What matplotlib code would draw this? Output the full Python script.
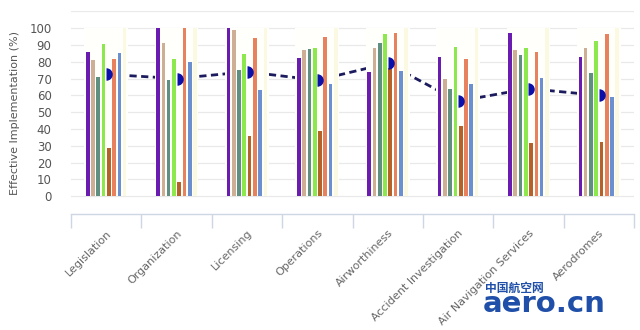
import matplotlib
matplotlib.use("Agg")
import matplotlib.pyplot as plt
import numpy as np

categories = ["Legislation", "Organization", "Licensing", "Operations", "Airworthiness",
              "Accident Investigation", "Air Navigation Services", "Aerodromes"]

s_purple = [86, 100, 100, 82, 74, 83, 97, 83]
s_tan = [81, 91, 99, 87, 88, 70, 87, 88]
s_teal = [71, 69, 75, 87.5, 91, 64, 84, 73]
s_green = [90.5, 81.5, 84.5, 88, 96.5, 89, 88, 92.5]
s_brown = [28.5, 8.5, 36, 39, 76, 42, 31.5, 32.5]
s_orange = [81.5, 100, 94, 94.5, 97, 81.5, 85.5, 96.5]
s_blue = [85, 80, 63, 66.5, 74.5, 67, 70.5, 59]
s_pale = [100, 100, 100, 100, 100, 100, 100, 100]
avg_line = [72.5, 70, 74, 69, 79, 56.5, 64, 60]

series = [s_purple, s_tan, s_teal, s_green, s_brown, s_orange, s_blue, s_pale]
colors = ["#6a1bb0", "#cfae96", "#5e8f80", "#8de84e", "#b5622a", "#e8825e", "#6c8fd0", "#fcf9e2"]

fig = plt.figure(figsize=(6.4, 3.3), dpi=100)
ax = fig.add_axes([71/640, 116/330, 563/640, 202.8/330])

x = np.arange(len(categories))
ax.set_xlim(-0.5, len(categories) - 0.5)
ax.set_ylim(-10.5, 110)

# grid
for g in range(0, 111, 10):
    ax.axhline(g, color="#e9e9e9", lw=0.9, zorder=0)

# dashed average line (behind group bands)
ax.plot(x, avg_line, color="#1b1b5e", lw=2.0, ls=(0, (2.6, 1.6)), zorder=1)

# faint group band
ax.bar(x, [100] * len(categories), width=0.62, bottom=0, color="#fffffb", zorder=2, linewidth=0)

n = len(series)
spacing = 0.075
width = 0.052
for i, (vals, c) in enumerate(zip(series, colors)):
    off = (i - (n - 1) / 2) * spacing
    ax.bar(x + off, vals, width=width, color=c, zorder=3, linewidth=0)

# half-circle markers
ax.plot(x, avg_line, ls="none", marker="o", ms=9, fillstyle="right",
        markerfacecolor="#0a10a8", markerfacecoloralt="none",
        markeredgewidth=0, zorder=4)

# axes styling
for sp in ["left", "right", "top"]:
    ax.spines[sp].set_visible(False)
ax.spines["bottom"].set_color("#cfd6e3")
ax.spines["bottom"].set_linewidth(1.0)

ax.set_yticks(range(0, 101, 10))
ax.set_yticklabels([str(v) for v in range(0, 101, 10)], fontsize=8.5, color="#555555")
ax.tick_params(axis="y", length=0, pad=14)

ax.set_xticks(x)
ax.set_xticklabels(categories, rotation=45, ha="right", va="top",
                   rotation_mode="anchor", fontsize=8, color="#666666")
ax.tick_params(axis="x", which="major", length=0, pad=10)
ax.set_xticks(np.arange(-0.5, len(categories)), minor=True)
ax.tick_params(axis="x", which="minor", length=10, color="#cfd6e3", width=1.0)

ax.set_ylabel("Effective Implementation (%)", fontsize=8, color="#555555", labelpad=7)

# watermark
fig.text(485/640, 1 - 295/330, "中国航空网", fontsize=8.5, fontweight="bold",
         color="#1f4fa8", family=["Noto Sans CJK SC", "DejaVu Sans"], va="bottom", ha="left")
fig.text(483/640, 1 - 318/330, "aero.cn", fontsize=21, fontweight="bold",
         color="#1f4fa8", family=["DejaVu Sans"], va="bottom", ha="left")

fig.savefig("out.png", dpi=100, facecolor="white")
